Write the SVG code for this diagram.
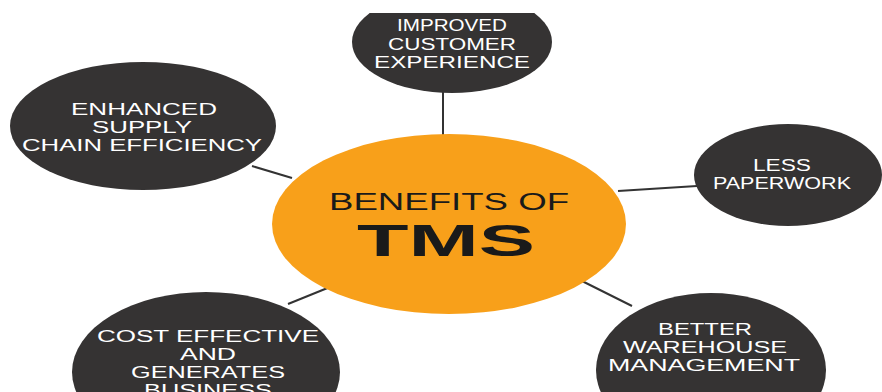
<svg xmlns="http://www.w3.org/2000/svg" width="882" height="392" viewBox="0 0 882 392">
<style>
.node{fill:#353333}
.t{fill:#ffffff;font-family:"Liberation Sans",Arial,sans-serif;font-size:16px;text-anchor:middle}
.c{fill:#1a1a1a;font-family:"Liberation Sans",Arial,sans-serif;text-anchor:middle}
.edge{stroke:#333333;stroke-width:2;fill:none}
</style>
<defs><clipPath id="top"><rect x="0" y="13" width="882" height="379"/></clipPath></defs>
<rect width="882" height="392" fill="#ffffff"/>
<g id="connectors">
<line class="edge" x1="443" y1="90" x2="443" y2="137"/>
<line class="edge" x1="252" y1="166" x2="292" y2="178"/>
<line class="edge" x1="618" y1="191" x2="697" y2="186"/>
<line class="edge" x1="288" y1="304" x2="330" y2="287"/>
<line class="edge" x1="578" y1="279" x2="632" y2="306"/>
</g>
<g id="center">
<ellipse cx="449" cy="224" rx="177" ry="90" fill="#F8A01A"/>
<text class="c" x="449" y="210" font-size="23" textLength="240" lengthAdjust="spacingAndGlyphs">BENEFITS OF</text>
<text class="c" x="446" y="256" font-size="45" font-weight="bold" textLength="178" lengthAdjust="spacingAndGlyphs">TMS</text>
</g>
<g id="n-customer" clip-path="url(#top)">
<ellipse class="node" cx="452" cy="42" rx="100" ry="51"/>
<text class="t" x="452" y="31" textLength="110" lengthAdjust="spacingAndGlyphs">IMPROVED</text>
<text class="t" x="452" y="50" textLength="128" lengthAdjust="spacingAndGlyphs">CUSTOMER</text>
<text class="t" x="452" y="68" textLength="156" lengthAdjust="spacingAndGlyphs">EXPERIENCE</text>
</g>
<g id="n-supply">
<ellipse class="node" cx="143" cy="126" rx="133" ry="64"/>
<text class="t" x="144" y="115" textLength="146" lengthAdjust="spacingAndGlyphs">ENHANCED</text>
<text class="t" x="142" y="133" textLength="100" lengthAdjust="spacingAndGlyphs">SUPPLY</text>
<text class="t" x="142" y="151" textLength="240" lengthAdjust="spacingAndGlyphs">CHAIN EFFICIENCY</text>
</g>
<g id="n-paper">
<ellipse class="node" cx="788" cy="175" rx="94" ry="51"/>
<text class="t" x="782" y="171" textLength="58" lengthAdjust="spacingAndGlyphs">LESS</text>
<text class="t" x="782" y="189" textLength="138" lengthAdjust="spacingAndGlyphs">PAPERWORK</text>
</g>
<g id="n-cost">
<ellipse class="node" cx="206" cy="372" rx="134" ry="80"/>
<text class="t" x="208" y="342" textLength="222" lengthAdjust="spacingAndGlyphs">COST EFFECTIVE</text>
<text class="t" x="208" y="360" textLength="56" lengthAdjust="spacingAndGlyphs">AND</text>
<text class="t" x="208" y="378" textLength="154" lengthAdjust="spacingAndGlyphs">GENERATES</text>
<text class="t" x="208" y="396" textLength="128" lengthAdjust="spacingAndGlyphs">BUSINESS</text>
</g>
<g id="n-warehouse">
<ellipse class="node" cx="711" cy="370" rx="115" ry="77"/>
<text class="t" x="705" y="335" textLength="94" lengthAdjust="spacingAndGlyphs">BETTER</text>
<text class="t" x="705" y="353" textLength="164" lengthAdjust="spacingAndGlyphs">WAREHOUSE</text>
<text class="t" x="704" y="371" textLength="192" lengthAdjust="spacingAndGlyphs">MANAGEMENT</text>
</g>
</svg>
